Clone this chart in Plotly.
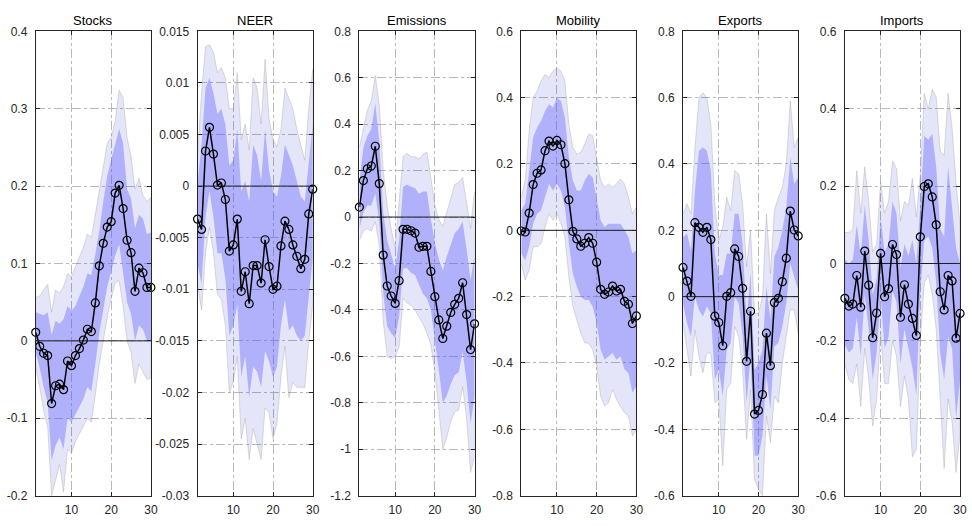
import plotly.graph_objects as go

horizon = list(range(1, 31))

# ---------------- Stocks ----------------
stocks_med = [0.011, -0.007, -0.016, -0.019, -0.081, -0.058, -0.056, -0.063, -0.026, -0.032,
              -0.019, -0.010, 0.001, 0.015, 0.012, 0.049, 0.097, 0.126, 0.147, 0.154,
              0.191, 0.201, 0.171, 0.130, 0.114, 0.064, 0.094, 0.088, 0.069, 0.069]
stocks_o_hi = [0.056, 0.058, 0.066, 0.073, 0.037, 0.066, 0.062, 0.070, 0.087, 0.083,
               0.096, 0.108, 0.121, 0.138, 0.134, 0.163, 0.192, 0.221, 0.255, 0.263,
               0.284, 0.324, 0.314, 0.263, 0.238, 0.196, 0.210, 0.188, 0.180, 0.186]
stocks_i_hi = [0.037, 0.035, 0.033, 0.037, 0.008, 0.026, 0.022, 0.028, 0.045, 0.039,
               0.045, 0.058, 0.070, 0.087, 0.085, 0.112, 0.142, 0.180, 0.213, 0.234,
               0.255, 0.274, 0.255, 0.196, 0.184, 0.146, 0.163, 0.158, 0.138, 0.140]
stocks_i_lo = [-0.015, -0.035, -0.060, -0.080, -0.155, -0.135, -0.125, -0.140, -0.100, -0.105,
               -0.095, -0.085, -0.075, -0.060, -0.065, -0.030, 0.010, 0.040, 0.070, 0.090,
               0.110, 0.125, 0.090, 0.050, 0.035, 0.000, 0.020, 0.015, 0.000, 0.000]
stocks_o_lo = [-0.035, -0.060, -0.090, -0.110, -0.200, -0.180, -0.160, -0.195, -0.140, -0.145,
               -0.130, -0.120, -0.110, -0.100, -0.105, -0.070, -0.030, 0.000, 0.030, 0.055,
               0.075, 0.078, 0.045, 0.000, -0.015, -0.055, -0.030, -0.040, -0.050, -0.048]

# ---------------- NEER ----------------
neer_med = [-0.0032, -0.0042, 0.0034, 0.0057, 0.0031, 0.0001, 0.0003, -0.0013, -0.0063, -0.0057,
            -0.0032, -0.0102, -0.0083, -0.0114, -0.0077, -0.0077, -0.0094, -0.0052, -0.0078, -0.0100,
            -0.0097, -0.0058, -0.0034, -0.0042, -0.0057, -0.0068, -0.0080, -0.0071, -0.0027, -0.0003]
neer_o_hi = [0.0030, 0.0090, 0.0135, 0.0137, 0.0130, 0.0110, 0.0115, 0.0105, 0.0075, 0.0075,
             0.0110, 0.0045, 0.0060, 0.0035, 0.0105, 0.0095, 0.0060, 0.0123, 0.0065, 0.0045,
             0.0038, 0.0055, 0.0095, 0.0085, 0.0075, 0.0055, 0.0040, 0.0025, 0.0075, 0.0113]
neer_i_hi = [0.0003, 0.0040, 0.0095, 0.0105, 0.0090, 0.0070, 0.0075, 0.0060, 0.0020, 0.0025,
             0.0055, -0.0005, 0.0005, -0.0015, 0.0040, 0.0030, 0.0005, 0.0055, 0.0015, -0.0005,
             -0.0010, 0.0010, 0.0040, 0.0030, 0.0020, 0.0005, -0.0010, -0.0015, 0.0020, 0.0060]
neer_i_lo = [-0.0075, -0.0095, -0.0030, -0.0005, -0.0030, -0.0065, -0.0065, -0.0090, -0.0145, -0.0135,
             -0.0115, -0.0185, -0.0165, -0.0205, -0.0175, -0.0180, -0.0195, -0.0160, -0.0170, -0.0185,
             -0.0175, -0.0135, -0.0110, -0.0140, -0.0135, -0.0145, -0.0150, -0.0145, -0.0105, -0.0070]
neer_o_lo = [-0.0095, -0.0120, -0.0065, -0.0040, -0.0065, -0.0105, -0.0110, -0.0135, -0.0200, -0.0190,
             -0.0165, -0.0245, -0.0225, -0.0265, -0.0235, -0.0250, -0.0265, -0.0215, -0.0220, -0.0245,
             -0.0230, -0.0185, -0.0155, -0.0205, -0.0190, -0.0195, -0.0195, -0.0195, -0.0150, -0.0115]

# ---------------- Emissions ----------------
emis_med = [0.043, 0.157, 0.208, 0.220, 0.305, 0.144, -0.164, -0.297, -0.340, -0.372,
            -0.274, -0.053, -0.053, -0.059, -0.069, -0.130, -0.126, -0.126, -0.234, -0.343,
            -0.443, -0.523, -0.470, -0.411, -0.376, -0.350, -0.283, -0.420, -0.571, -0.460]
emis_o_hi = [0.30, 0.38, 0.46, 0.50, 0.61, 0.48, 0.20, 0.05, -0.05, -0.13,
             0.05, 0.26, 0.275, 0.26, 0.26, 0.25, 0.27, 0.28, 0.17, 0.05,
             -0.01, -0.04, 0.02, 0.08, 0.14, 0.15, 0.17, 0.06, -0.05, 0.11]
emis_i_hi = [0.15, 0.30, 0.35, 0.38, 0.49, 0.33, 0.02, -0.10, -0.16, -0.22,
             -0.10, 0.13, 0.14, 0.13, 0.125, 0.10, 0.11, 0.11, -0.01, -0.11,
             -0.18, -0.23, -0.17, -0.12, -0.07, -0.05, -0.02, -0.14, -0.27, -0.17]
emis_i_lo = [-0.05, 0.02, 0.05, 0.05, 0.10, -0.02, -0.33, -0.47, -0.50, -0.52,
             -0.43, -0.22, -0.22, -0.24, -0.25, -0.29, -0.33, -0.35, -0.40, -0.52,
             -0.66, -0.80, -0.77, -0.72, -0.68, -0.67, -0.58, -0.71, -0.89, -0.77]
emis_o_lo = [-0.10, -0.06, -0.05, -0.06, -0.02, -0.12, -0.45, -0.60, -0.61, -0.60,
             -0.56, -0.35, -0.37, -0.38, -0.40, -0.43, -0.46, -0.50, -0.55, -0.67,
             -0.83, -1.00, -0.95, -0.88, -0.84, -0.83, -0.73, -0.87, -1.10, -1.03]

# ---------------- Mobility ----------------
mob_med = [-0.002, -0.005, 0.052, 0.138, 0.172, 0.182, 0.240, 0.269, 0.254, 0.271,
           0.258, 0.201, 0.092, -0.003, -0.026, -0.048, -0.039, -0.022, -0.039, -0.096,
           -0.178, -0.193, -0.186, -0.168, -0.183, -0.178, -0.214, -0.223, -0.281, -0.258]
mob_o_hi = [0.10, 0.15, 0.30, 0.40, 0.42, 0.45, 0.47, 0.46, 0.48, 0.49,
            0.48, 0.45, 0.32, 0.25, 0.23, 0.235, 0.26, 0.29, 0.285, 0.22,
            0.15, 0.13, 0.14, 0.13, 0.14, 0.155, 0.14, 0.10, 0.05, 0.07]
mob_i_hi = [0.06, 0.08, 0.18, 0.28, 0.31, 0.33, 0.36, 0.38, 0.37, 0.40,
            0.39, 0.34, 0.22, 0.15, 0.12, 0.12, 0.15, 0.17, 0.16, 0.10,
            0.03, 0.01, 0.02, 0.02, 0.02, 0.02, 0.00, -0.02, -0.07, -0.06]
mob_i_lo = [-0.07, -0.09, -0.05, 0.02, 0.05, 0.06, 0.10, 0.14, 0.12, 0.14,
            0.12, 0.07, -0.04, -0.13, -0.17, -0.20, -0.21, -0.21, -0.23, -0.28,
            -0.36, -0.39, -0.38, -0.37, -0.39, -0.38, -0.42, -0.43, -0.49, -0.47]
mob_o_lo = [-0.10, -0.15, -0.12, -0.05, -0.05, -0.04, 0.01, 0.05, 0.03, 0.05,
            0.02, -0.02, -0.14, -0.23, -0.27, -0.31, -0.34, -0.34, -0.36, -0.41,
            -0.50, -0.53, -0.52, -0.48, -0.51, -0.53, -0.55, -0.56, -0.62, -0.60]

# ---------------- Exports ----------------
exp_med = [0.088, 0.047, 0.001, 0.223, 0.209, 0.194, 0.209, 0.172, -0.059, -0.078,
           -0.148, 0.001, 0.012, 0.144, 0.121, 0.025, -0.195, -0.044, -0.354, -0.343,
           -0.295, -0.110, -0.208, -0.018, -0.005, 0.045, 0.116, 0.258, 0.201, 0.183]
exp_o_hi = [0.25, 0.28, 0.25, 0.45, 0.60, 0.615, 0.60, 0.52, 0.28, 0.17,
            0.21, 0.30, 0.26, 0.38, 0.37, 0.28, 0.09, 0.20, -0.05, -0.05,
            0.00, 0.25, 0.07, 0.26, 0.30, 0.33, 0.40, 0.59, 0.45, 0.48]
exp_i_hi = [0.18, 0.19, 0.14, 0.32, 0.44, 0.45, 0.44, 0.38, 0.13, 0.065,
            0.065, 0.13, 0.13, 0.25, 0.25, 0.16, -0.07, 0.07, -0.22, -0.20,
            -0.16, 0.03, -0.07, 0.12, 0.15, 0.20, 0.27, 0.42, 0.34, 0.36]
exp_i_lo = [-0.02, -0.08, -0.12, 0.00, -0.04, -0.06, -0.03, -0.05, -0.25, -0.22,
            -0.30, -0.16, -0.14, 0.00, -0.02, -0.12, -0.32, -0.18, -0.48, -0.48,
            -0.42, -0.24, -0.34, -0.15, -0.14, -0.09, -0.02, 0.10, 0.06, 0.02]
exp_o_lo = [-0.08, -0.16, -0.24, -0.10, -0.18, -0.23, -0.17, -0.17, -0.32, -0.31,
            -0.51, -0.28, -0.26, -0.09, -0.12, -0.22, -0.43, -0.28, -0.55, -0.58,
            -0.60, -0.36, -0.44, -0.30, -0.32, -0.20, -0.12, -0.04, -0.04, -0.11]

# ---------------- Imports ----------------
imp_med = [-0.090, -0.110, -0.105, -0.031, -0.113, 0.032, -0.056, -0.192, -0.128, 0.026,
           -0.086, -0.065, 0.049, 0.023, -0.139, -0.055, -0.105, -0.142, -0.186, 0.069,
           0.199, 0.206, 0.172, 0.100, -0.073, -0.120, -0.031, -0.045, -0.193, -0.129]
imp_o_hi = [0.08, 0.08, 0.09, 0.24, 0.13, 0.25, 0.16, 0.03, 0.05, 0.21,
            0.13, 0.16, 0.265, 0.245, 0.11, 0.16, 0.15, 0.22, 0.12, 0.23,
            0.44, 0.40, 0.45, 0.43, 0.29, 0.28, 0.44, 0.35, 0.21, 0.10]
imp_i_hi = [0.01, 0.00, 0.01, 0.10, 0.02, 0.15, 0.06, -0.08, -0.04, 0.12,
            0.03, 0.05, 0.16, 0.13, -0.01, 0.05, 0.02, 0.06, 0.00, 0.15,
            0.33, 0.32, 0.335, 0.25, 0.09, 0.07, 0.25, 0.15, 0.04, 0.00]
imp_i_lo = [-0.21, -0.23, -0.22, -0.14, -0.24, -0.08, -0.17, -0.30, -0.23, -0.08,
            -0.22, -0.19, -0.07, -0.10, -0.26, -0.17, -0.22, -0.27, -0.34, -0.07,
            0.06, 0.07, 0.04, -0.05, -0.23, -0.30, -0.19, -0.22, -0.40, -0.30]
imp_o_lo = [-0.26, -0.30, -0.31, -0.26, -0.37, -0.22, -0.30, -0.42, -0.35, -0.18,
            -0.31, -0.31, -0.20, -0.24, -0.37, -0.29, -0.35, -0.50, -0.48, -0.20,
            -0.05, -0.03, -0.08, -0.17, -0.36, -0.53, -0.35, -0.41, -0.54, -0.44]

titles = ["Stocks", "NEER", "Emissions", "Mobility", "Exports", "Imports"]
y_ranges = [[-0.2, 0.4], [-0.03, 0.015], [-1.2, 0.8], [-0.8, 0.6], [-0.6, 0.8], [-0.6, 0.6]]
y_ticks = [
    [-0.2, -0.1, 0, 0.1, 0.2, 0.3, 0.4],
    [-0.03, -0.025, -0.02, -0.015, -0.01, -0.005, 0, 0.005, 0.01, 0.015],
    [-1.2, -1, -0.8, -0.6, -0.4, -0.2, 0, 0.2, 0.4, 0.6, 0.8],
    [-0.8, -0.6, -0.4, -0.2, 0, 0.2, 0.4, 0.6],
    [-0.6, -0.4, -0.2, 0, 0.2, 0.4, 0.6, 0.8],
    [-0.6, -0.4, -0.2, 0, 0.2, 0.4, 0.6],
]
x_ticks = [10, 20, 30]

panels = [
    (stocks_med, stocks_o_hi, stocks_i_hi, stocks_i_lo, stocks_o_lo),
    (neer_med, neer_o_hi, neer_i_hi, neer_i_lo, neer_o_lo),
    (emis_med, emis_o_hi, emis_i_hi, emis_i_lo, emis_o_lo),
    (mob_med, mob_o_hi, mob_i_hi, mob_i_lo, mob_o_lo),
    (exp_med, exp_o_hi, exp_i_hi, exp_i_lo, exp_o_lo),
    (imp_med, imp_o_hi, imp_i_hi, imp_i_lo, imp_o_lo),
]

W, H = 972, 526
lefts_px = [36, 199, 362, 525, 688, 851]
width_px = 116
top_px, bottom_px = 25, 502

OUTER = "rgba(0,0,200,0.10)"
INNER = "rgba(100,100,255,0.40)"
TICKCOL = "rgb(38,38,38)"
FONT = "Liberation Sans, Arial, sans-serif"

fig = go.Figure()
layout = dict(
    width=W, height=H, margin=dict(l=0, r=0, t=0, b=0),
    paper_bgcolor="white", plot_bgcolor="white", showlegend=False,
    font=dict(family=FONT, size=12, color=TICKCOL),
)
annotations = []

def fmt(v):
    if v == 0:
        return "0"
    return ("%g" % v)

for i, (med, ohi, ihi, ilo, olo) in enumerate(panels):
    n = i + 1
    xa = "x" if n == 1 else f"x{n}"
    ya = "y" if n == 1 else f"y{n}"
    xpoly = horizon + horizon[::-1]
    fig.add_trace(go.Scatter(x=xpoly, y=ohi + olo[::-1], fill="toself", fillcolor=OUTER,
                             mode="lines", line=dict(color="rgba(150,150,150,0.55)", width=0.6),
                             hoverinfo="skip", xaxis=xa, yaxis=ya))
    fig.add_trace(go.Scatter(x=xpoly, y=ihi + ilo[::-1], fill="toself", fillcolor=INNER,
                             mode="lines", line=dict(width=0), hoverinfo="skip",
                             xaxis=xa, yaxis=ya))
    fig.add_trace(go.Scatter(x=[horizon[0], horizon[-1]], y=[0, 0], mode="lines",
                             line=dict(color="rgb(30,30,30)", width=1),
                             hoverinfo="skip", xaxis=xa, yaxis=ya))
    fig.add_trace(go.Scatter(x=horizon, y=med, mode="lines+markers",
                             line=dict(color="black", width=1.5),
                             marker=dict(symbol="circle-open", size=8, color="black",
                                         line=dict(width=1.2, color="black")),
                             cliponaxis=False, xaxis=xa, yaxis=ya))

    x0 = lefts_px[i] / W
    x1 = (lefts_px[i] + width_px) / W
    axis_common = dict(showline=True, linecolor=TICKCOL, linewidth=1, mirror="ticks",
                       ticks="inside", ticklen=4, tickcolor=TICKCOL, tickwidth=1,
                       showgrid=True, gridcolor="rgb(185,185,185)", gridwidth=1,
                       griddash="dashdot", zeroline=False,
                       tickfont=dict(family=FONT, size=12, color=TICKCOL))
    layout["xaxis" if n == 1 else f"xaxis{n}"] = dict(
        domain=[x0, x1], range=[1, 30], anchor=ya, tickmode="array",
        tickvals=x_ticks, ticktext=[str(t) for t in x_ticks], ticklabelstandoff=3,
        **axis_common)
    layout["yaxis" if n == 1 else f"yaxis{n}"] = dict(
        domain=[1 - bottom_px / H, 1 - top_px / H], range=y_ranges[i], anchor=xa,
        tickmode="array", tickvals=y_ticks[i], ticktext=[fmt(v) for v in y_ticks[i]],
        ticklabelstandoff=5, **axis_common)
    annotations.append(dict(text=titles[i], x=(x0 + x1) / 2, y=1 - 14 / H,
                            xref="paper", yref="paper", showarrow=False,
                            xanchor="center", yanchor="middle",
                            font=dict(family=FONT, size=13, color="black")))

layout["annotations"] = annotations
fig.update_layout(**layout)
fig.write_html("out.html")
